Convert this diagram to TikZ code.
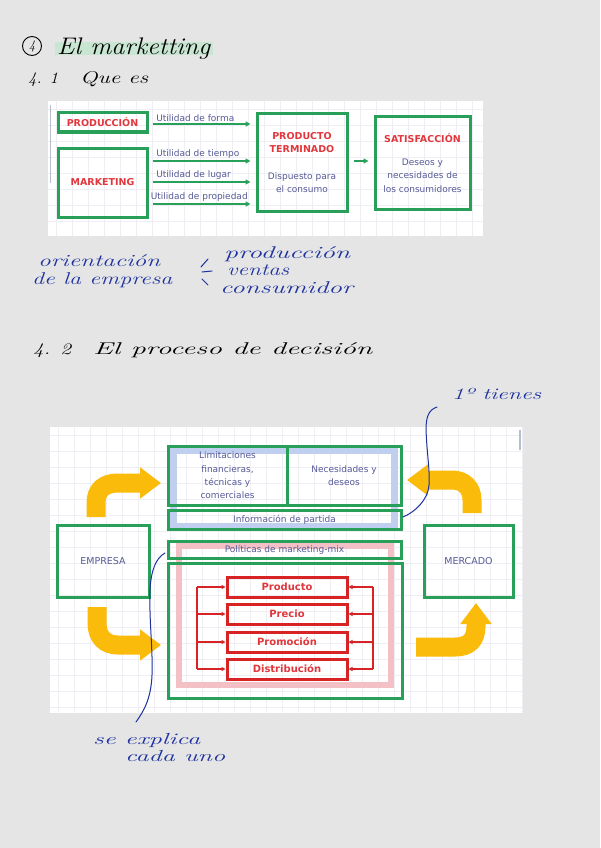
\documentclass[tikz,border=0pt]{standalone}
\usepackage{fontspec}
\newfontfamily\uifont{DejaVu Sans}
\usetikzlibrary{arrows.meta}
\definecolor{bgc}{RGB}{229,229,229}
\definecolor{grn}{RGB}{40,160,90}
\definecolor{redt}{RGB}{225,55,60}
\definecolor{redb}{RGB}{215,35,35}
\definecolor{lbl}{RGB}{85,90,150}
\definecolor{yel}{RGB}{250,187,10}
\definecolor{inkc}{RGB}{30,50,160}
\definecolor{gridc}{RGB}{238,238,244}
\definecolor{bluehl}{RGB}{192,206,240}
\definecolor{pinkhl}{RGB}{242,192,197}
\definecolor{greenhl}{RGB}{200,230,210}
\definecolor{scrollc}{RGB}{185,190,205}
\newcommand{\handw}[3]{\resizebox{#1pt}{\height}{\fontsize{#2}{#2}\selectfont\itshape #3}}
\tikzset{
  hand/.style={inner sep=0pt, anchor=base west, text=black},
  inkt/.style={inner sep=0pt, anchor=base west, text=inkc},
  inkline/.style={draw=inkc, line width=1pt, line cap=round},
  gbox/.style={draw=grn, line width=3pt, inner sep=0pt, align=center, text=lbl,
    font=\uifont\fontsize{9}{13.3}\selectfont},
  rbox/.style={draw=redb, line width=3pt, inner sep=0pt, minimum width=120pt,
    minimum height=20pt, text=redt, font=\uifont\bfseries\fontsize{10}{12}\selectfont},
  garrow/.style={draw=grn, line width=1.5pt, -{Triangle[length=5pt,width=5pt]}},
  rarrow/.style={draw=redb, line width=1.3pt, -{Triangle[length=4pt,width=4pt]}},
  yarrow/.style={draw=yel, line width=19pt, -{Triangle[length=21pt,width=30pt]}},
  ulabel/.style={inner sep=0pt, anchor=south west, text=lbl, font=\uifont\fontsize{9}{11}\selectfont},
}
\newcommand{\rtitle}[1]{{\bfseries\color{redt}\fontsize{9.5}{13.3}\selectfont #1}}
\begin{document}
\begin{tikzpicture}[x=1pt,y=-1pt]
\fill[bgc] (0,0) rectangle (600,848);
\useasboundingbox (0,0) rectangle (600,848);

% ---------- heading ----------
\fill[greenhl] (55,42) rectangle (213,55);
\node[draw=black, circle, line width=0.9pt, minimum size=19pt, inner sep=0pt] (c4) at (32,46)
  {\fontsize{13}{13}\selectfont\itshape 4};
\node[hand] (tmk) at (57,55) {\handw{153}{24}{El marketting}};
\node[hand] (t41) at (28,84) {\handw{30}{16}{4. 1}};
\node[hand] (tque) at (80,84) {\handw{68}{17}{Que es}};

% ---------- top panel ----------
\fill[white] (48,101) rectangle (483,236);
\foreach \gx in {56,72,...,480} \draw[gridc, line width=0.6pt] (\gx,101) -- (\gx,236);
\foreach \gy in {109,125,...,236} \draw[gridc, line width=0.6pt] (48,\gy) -- (483,\gy);
\draw[scrollc, line width=1pt] (50,105) -- (50,183);

\node[gbox, minimum width=89pt, minimum height=19pt] (prod) at (102.5,122.5) {\rtitle{PRODUCCIÓN}};
\node[gbox, minimum width=89pt, minimum height=69pt] (mkt) at (102.5,182.5) {\rtitle{MARKETING}};
\node[gbox, minimum width=90pt, minimum height=97pt] (pt) at (302,162.5)
  {\rtitle{PRODUCTO}\\\rtitle{TERMINADO}\\[13pt]Dispuesto para\\el consumo};
\node[gbox, minimum width=95pt, minimum height=92pt] (sat) at (422.5,163)
  {\rtitle{SATISFACCIÓN}\\[10pt]Deseos y\\necesidades de\\los consumidores};

\coordinate (ay0) at (0,124);
\coordinate (ay1) at (0,161);
\coordinate (ay2) at (0,182);
\coordinate (ay3) at (0,204);
\draw[garrow, shorten <=4pt, shorten >=5pt] (prod.east |- ay0) -- (pt.west |- ay0)
  node[ulabel, pos=0, xshift=7pt, yshift=1.5pt] (lf) {Utilidad de forma};
\draw[garrow, shorten <=4pt, shorten >=5pt] (mkt.east |- ay1) -- (pt.west |- ay1)
  node[ulabel, pos=0, xshift=7pt, yshift=1.5pt] (lt) {Utilidad de tiempo};
\draw[garrow, shorten <=4pt, shorten >=5pt] (mkt.east |- ay2) -- (pt.west |- ay2)
  node[ulabel, pos=0, xshift=7pt, yshift=1.5pt] (ll) {Utilidad de lugar};
\draw[garrow, shorten <=4pt, shorten >=5pt] (mkt.east |- ay3) -- (pt.west |- ay3)
  node[ulabel, pos=0, xshift=1.5pt, yshift=1.5pt] (lp) {Utilidad de propiedad};
\draw[garrow, shorten <=5pt, shorten >=5pt] (pt.east |- ay1) -- (sat.west |- ay1);

% ---------- handwritten notes ----------
\node[inkt] (tori) at (38,266) {\handw{122}{17}{orientación}};
\node[inkt] (temp) at (32,284) {\handw{140}{17}{de la empresa}};
\draw[inkline] (208,259) -- (201,267);
\draw[inkline] (202,272) -- (212,271);
\draw[inkline] (202,279) -- (208,285);
\node[inkt] (tpro) at (224,258) {\handw{126}{17}{producción}};
\node[inkt] (tven) at (227,275) {\handw{62}{17}{ventas}};
\node[inkt] (tcon) at (220,293) {\handw{133}{17}{consumidor}};

\node[hand] (t42) at (33,354) {\handw{38}{16}{4. 2}};
\node[hand] (tproc) at (93,354) {\handw{279}{17}{El proceso de decisión}};
\node[inkt] (ttie) at (452,399) {\handw{89}{16}{1º tienes}};

% ---------- bottom panel ----------
\fill[white] (50,427) rectangle (522,713);
\foreach \gx in {58,74,...,522} \draw[gridc, line width=0.6pt] (\gx,427) -- (\gx,713);
\foreach \gy in {435,451,...,713} \draw[gridc, line width=0.6pt] (50,\gy) -- (522,\gy);
\draw[scrollc, line width=2pt] (519.5,430) -- (519.5,450);

\draw[bluehl, line width=7pt] (173.5,450.5) rectangle (394.5,526.5);
\draw[pinkhl, line width=6pt] (178.5,546) rectangle (390.5,685);

\node[gbox, minimum width=119pt, minimum height=59pt] (lim) at (227.5,475.5)
  {Limitaciones\\financieras,\\técnicas y\\comerciales};
\node[gbox, minimum width=114pt, minimum height=59pt] (nec) at (344,475.5)
  {Necesidades y\\deseos};
\node[gbox, minimum width=233pt, minimum height=19pt] (info) at (284.5,519.5) {Información de partida};
\node[gbox, minimum width=233pt, minimum height=17pt] (pol) at (284.5,549.5) {Políticas de marketing-mix};
\node[gbox, minimum width=234pt, minimum height=135pt] (mix) at (285,630.5) {};
\node[gbox, minimum width=92pt, minimum height=72pt, font=\uifont\fontsize{9.5}{12}\selectfont] (emp) at (103,561) {EMPRESA};
\node[gbox, minimum width=89pt, minimum height=72pt, font=\uifont\fontsize{9.5}{12}\selectfont] (mer) at (468.5,561) {MERCADO};

\node[rbox] (p1) at (287,587) {Producto};
\node[rbox] (p2) at (287,614) {Precio};
\node[rbox] (p3) at (287,642) {Promoción};
\node[rbox] (p4) at (287,669) {Distribución};
\coordinate (lbar) at (197,0);
\coordinate (rbar) at (373,0);
\draw[redb, line width=1.3pt] (lbar |- p1.west) -- (lbar |- p4.west);
\draw[redb, line width=1.3pt] (rbar |- p1.east) -- (rbar |- p4.east);
\foreach \p in {p1,p2,p3,p4} {
  \draw[rarrow] (lbar |- \p.west) -- (\p.west);
  \draw[rarrow] (rbar |- \p.east) -- (\p.east);
}

% yellow curved arrows
\draw[yarrow] (96,517) -- (96,503) .. controls (96,490) and (104,483) .. (118,483) -- (161,483);
\draw[yarrow] (472,513) -- (472,500) .. controls (472,488) and (464,480) .. (452,480) -- (407,480);
\draw[yarrow] (97,607) -- (97,623) .. controls (97,637) and (105,645) .. (118,645) -- (161,645);
\draw[yarrow] (416,647) -- (455,647) .. controls (469,647) and (476,640) .. (476,626) -- (476,603);

% handwritten brackets
\draw[inkline] (437,407) .. controls (428,410) and (426,418) .. (426,430)
  .. controls (427,455) and (430,470) .. (429,485)
  .. controls (428,500) and (415,512) .. (403,517);
\draw[inkline] (165,553) .. controls (156,558) and (151,570) .. (150,590)
  .. controls (149,620) and (153,650) .. (152,675)
  .. controls (151,700) and (143,712) .. (136,722);

\node[inkt] (texp) at (93,744) {\handw{107}{16}{se explica}};
\node[inkt] (tcada) at (125,761) {\handw{100}{16}{cada uno}};
\end{tikzpicture}
\end{document}
